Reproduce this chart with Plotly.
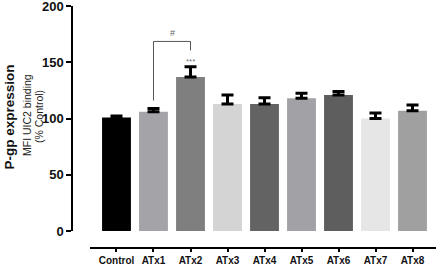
import plotly.graph_objects as go

categories = ["Control", "ATx1", "ATx2", "ATx3", "ATx4", "ATx5", "ATx6", "ATx7", "ATx8"]
values = [101, 106, 137, 113, 113, 118, 121, 100, 107]
errors = [1.3, 3, 9, 8, 5.5, 4.5, 3, 5, 5]
colors = ["#000000", "#a3a3a8", "#7f7f7f", "#d4d4d4", "#636363", "#a2a2a6", "#5e5e5e", "#e6e6e6", "#a0a0a0"]
y_ticks = [0, 50, 100, 150, 200]

W, H = 436, 266
FONT = "Arial, Liberation Sans, sans-serif"

xpos = list(range(len(categories)))

fig = go.Figure()
fig.add_trace(go.Bar(
    x=xpos, y=values, width=0.78,
    marker=dict(color=colors, line=dict(width=0)),
    error_y=dict(type="data", array=errors, arrayminus=[0]*len(errors), symmetric=False,
                 color="#000000", thickness=3, width=6),
    showlegend=False,
))

# significance bracket
fig.add_shape(type="line", xref="x", yref="y", x0=1, x1=1, y0=116, y1=168.5,
              line=dict(color="#555555", width=1))
fig.add_shape(type="line", xref="x", yref="y", x0=1, x1=2, y0=168.5, y1=168.5,
              line=dict(color="#555555", width=1))
fig.add_shape(type="line", xref="x", yref="y", x0=2, x1=2, y0=160.5, y1=168.5,
              line=dict(color="#555555", width=1))
fig.add_annotation(x=1.5, y=176, xref="x", yref="y", text="#", showarrow=False,
                   font=dict(family=FONT, size=9, color="#666666"))
fig.add_annotation(x=2, y=151, xref="x", yref="y", text="***", showarrow=False,
                   font=dict(family=FONT, size=8, color="#777777"))

# y axis titles
ann_common = dict(xref="paper", yref="paper", textangle=-90, showarrow=False,
                  xanchor="center", yanchor="middle")
fig.add_annotation(x=9/W, y=1-117.5/H, text="<b>P-gp expression</b>",
                   font=dict(family=FONT, size=13.5, color="#111111"), **ann_common)
fig.add_annotation(x=27/W, y=1-115/H, text="MFI UIC2 binding",
                   font=dict(family=FONT, size=10.5, color="#222222"), **ann_common)
fig.add_annotation(x=38.5/W, y=1-116.5/H, text="(% Control)",
                   font=dict(family=FONT, size=10.5, color="#222222"), **ann_common)

a, b = -0.716, 8.635
fig.update_layout(
    width=W, height=H,
    margin=dict(l=0, r=0, t=0, b=0),
    paper_bgcolor="white", plot_bgcolor="white",
    template="none",
    xaxis=dict(
        domain=[90/W, 1], anchor="free", position=(H-248)/H,
        range=[a, b], tickmode="array", tickvals=xpos,
        ticktext=["<b>%s</b>" % c for c in categories],
        showline=True, linecolor="#000000", linewidth=1.5,
        ticks="outside", ticklen=3, tickwidth=1.5, tickcolor="#000000",
        showgrid=False, zeroline=False, automargin=False,
        ticklabeloverflow="allow",
        tickfont=dict(family=FONT, size=10, color="#111111"),
    ),
    yaxis=dict(
        domain=[(H-231)/H, (H-6)/H], anchor="free", position=72/W,
        range=[0, 200], tickmode="array", tickvals=y_ticks,
        ticktext=["<b>%d</b>" % v for v in y_ticks],
        showline=True, linecolor="#000000", linewidth=1.5,
        ticks="outside", ticklen=5, tickwidth=1.5, tickcolor="#000000",
        showgrid=False, zeroline=False, automargin=False,
        ticklabeloverflow="allow",
        tickfont=dict(family=FONT, size=13, color="#111111"),
    ),
)

fig.write_html("out.html")
